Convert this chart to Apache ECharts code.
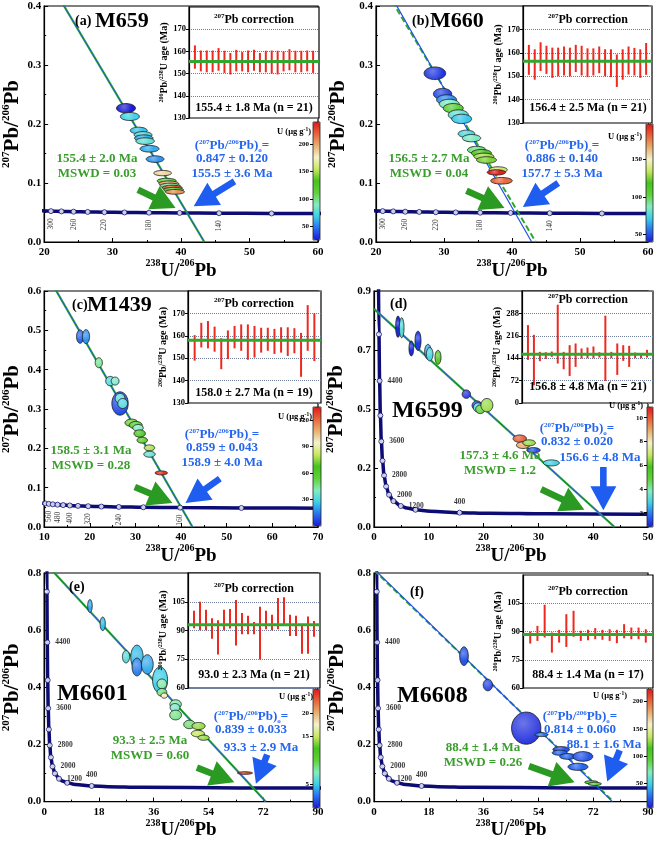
<!DOCTYPE html>
<html><head><meta charset="utf-8">
<script src="https://cdn.jsdelivr.net/npm/echarts/dist/echarts.min.js"></script>
<style>html,body{margin:0;padding:0;background:#fff}#c{width:661px;height:841px}</style>
</head><body><div id="c"></div>
<script>
// ================= DATA =================
// Concordia reference points: age (Ma), 238U/206Pb, 207Pb/206Pb
const concNarrowAge = [320,300,280,260,240,220,200,180,160,140,120,100];
const concNarrowX   = [19.65,20.99,22.53,24.30,26.36,28.80,31.73,35.32,39.79,45.55,53.22,63.97];
const concNarrowY   = [0.0528,0.0523,0.0519,0.0514,0.0510,0.0505,0.0501,0.0497,0.0493,0.0488,0.0484,0.0480];
const concNarrowMarked  = [300,280,260,240,220,200,180,160,140,120];
const concNarrowLabeled = [300,260,220,180,140];

const concMidAge = [640,600,560,520,480,440,400,360,320,280,240,200,160,120,80];
const concMidX   = [9.58,10.25,11.02,11.90,12.94,14.16,15.62,17.41,19.65,22.53,26.36,31.73,39.79,53.22,80.08];
const concMidY   = [0.0610,0.0599,0.0588,0.0577,0.0567,0.0557,0.0547,0.0537,0.0528,0.0519,0.0510,0.0501,0.0493,0.0484,0.0476];
const concMidMarked  = [600,560,520,480,440,400,360,320,280,240,200,160,120];
const concMidLabeled = [560,480,400,320,240,160];

const concWideAge = [5200,4800,4400,4000,3600,3200,2800,2400,2000,1600,1200,1000,800,600,400,300,200,100,60];
const concWideX   = [0.806,0.9045,1.0216,1.163,1.337,1.556,1.838,2.217,2.749,3.549,4.888,5.959,7.568,10.25,15.62,20.99,31.73,63.97,106.9];
const concWideY   = [0.974,0.7348,0.5572,0.4250,0.3264,0.2524,0.1968,0.1548,0.1230,0.0987,0.0801,0.0725,0.0658,0.0599,0.0547,0.0523,0.0501,0.0480,0.0472];
const concWideMarked  = [4800,4400,4000,3600,3200,2800,2400,2000,1600,1200,800,400];
const concWideLabeled = [4400,3600,2800,2000,1200,400];

// Analysis ellipses: [238U/206Pb, 207Pb/206Pb, half-width x, half-height y, U (ug/g)]
const ellA = [[31.95,0.2268,1.39,0.0079,20],[32.52,0.2127,1.39,0.0068,70],[33.81,0.189,1.24,0.0056,65],
  [34.45,0.1815,1.3,0.0056,75],[34.55,0.176,1.35,0.0056,60],[34.75,0.171,1.35,0.0056,80],
  [35.39,0.158,1.39,0.0056,60],[36.2,0.1405,1.3,0.0056,55],[37.3,0.1168,1.3,0.0045,185],
  [37.9,0.1035,1.4,0.0045,110],[38.2,0.099,1.45,0.0045,200],[38.4,0.0955,1.45,0.0042,95],
  [38.7,0.092,1.45,0.0042,220],[38.9,0.0885,1.45,0.0042,120],[39.1,0.085,1.4,0.004,205]];
const ellB = [[28.66,0.286,1.59,0.0107,45],[29.79,0.251,1.35,0.0093,48],[30.38,0.241,1.47,0.0085,60],
  [30.77,0.234,1.47,0.0079,85],[31.36,0.2268,1.47,0.0079,105],[32.1,0.2155,1.47,0.0085,80],
  [32.6,0.2087,1.47,0.0079,70],[33.3,0.1834,1.22,0.0062,75],[34.05,0.176,1.35,0.0062,85],
  [34.8,0.156,1.35,0.0062,95],[35.5,0.1506,1.47,0.0062,120],[35.86,0.145,1.47,0.0056,130],
  [36.25,0.139,1.47,0.0056,125],[37.96,0.1224,1.35,0.0051,135],[37.7,0.118,1.35,0.0045,195],
  [38.45,0.1038,1.59,0.0056,180]];
const ellC = [[17.88,0.484,0.79,0.017,12],[19.17,0.484,0.79,0.0178,18],[21.97,0.4177,0.79,0.0127,45],
  [24.48,0.371,1.0,0.0119,30],[25.55,0.371,0.86,0.0102,38],[26.63,0.314,1.79,0.0297,8],
  [26.63,0.327,1.07,0.0127,32],[27.2,0.314,1.07,0.0127,30],[29.14,0.265,1.43,0.0093,72],
  [30.07,0.259,1.43,0.0093,60],[30.57,0.2521,1.15,0.0085,40],[30.93,0.2377,1.25,0.0093,65],
  [31.5,0.2207,1.15,0.0076,70],[33.08,0.2012,1.15,0.0076,78],[33.08,0.185,1.25,0.0076,35],
  [35.66,0.1375,1.36,0.0051,130]];
const ellD = [[4.38,0.764,0.43,0.0407,1.0],[5.05,0.760,0.43,0.0382,3.2],[6.81,0.681,0.43,0.0286,1.0],
  [8.03,0.710,0.55,0.0369,1.2],[9.85,0.668,0.61,0.0286,2.5],[10.16,0.659,0.61,0.0255,3.0],
  [11.68,0.647,0.55,0.0267,6.0],[16.85,0.5066,0.76,0.016,1.0],[18.8,0.4633,0.91,0.0178,1.2],
  [18.98,0.4557,0.85,0.0178,3.0],[19.4,0.449,0.85,0.0165,5.0],[20.6,0.4646,1.09,0.0255,6.5],
  [26.6,0.337,1.22,0.014,10.0],[27.2,0.312,1.22,0.0127,9.0],[28.3,0.321,1.16,0.0115,6.5],
  [29.1,0.2928,1.22,0.0102,1.5],[32.36,0.2444,1.46,0.0115,3.0]];
const ellE = [[15.05,0.6845,0.75,0.0227,4],[19.25,0.622,0.86,0.0238,4.5],[26.9,0.507,1.18,0.0216,6],
  [30.5,0.505,2.04,0.0426,4.5],[30.5,0.471,1.61,0.0312,3],[33.9,0.48,1.94,0.034,4],
  [38.1,0.4257,2.47,0.0454,5],[38.7,0.412,1.61,0.017,8],[38.7,0.3825,1.61,0.0136,9],
  [39.46,0.371,1.08,0.0091,18],[43.2,0.3405,1.88,0.0159,8],[43.0,0.329,1.61,0.0142,7],
  [43.2,0.303,1.94,0.017,8.5],[47.74,0.27,1.88,0.0148,9],[50.75,0.2645,2.15,0.0125,14],
  [50.5,0.238,2.15,0.0114,15],[52.4,0.2236,1.88,0.0091,14],[66.0,0.1,2.47,0.0045,23]];
const ellF = [[29.56,0.509,1.42,0.0327,20],[37.4,0.408,1.53,0.0203,15],[50.0,0.257,4.82,0.0563,10],
  [55.0,0.2344,2.19,0.0068,30],[61.5,0.1825,2.74,0.0101,20],[61.0,0.171,2.46,0.009,25],
  [63.7,0.158,2.74,0.0101,25],[68.6,0.158,3.28,0.0169,20],[67.0,0.1217,3.28,0.0124,25],
  [71.4,0.0676,2.19,0.0056,100],[72.5,0.062,2.19,0.0056,90]];

// Regression lines (two end points each)
const discGreenA = [[0,0.847],[43.4,0]],  discBlueA = [[0,0.847],[43.4,0]];
const discGreenB = [[0,0.84],[43.5,0]],   discBlueB = [[0,0.865],[42.9,0]];
const discGreenC = [[0,0.855],[42.5,0]],  discBlueC = [[0,0.855],[42.5,0]];
const discGreenD = [[0,0.832],[43.9,0]],  discBlueD = [[0,0.832],[43.9,0]];
const discGreenE = [[0,0.839],[72.8,0]],  discBlueE = [[0,0.839],[72.8,0]];
const discGreenF = [[0,0.81],[78.6,0]],   discBlueF = [[0,0.814],[78.3,0]];

// Arrows: [tail x, tail y, head x, head y, kind(0 green,1 blue)]
const arrowsA = [[33.7,0.0886,39.2,0.0575,0],[47.8,0.1027,41.84,0.0604,1]];
const arrowsB = [[33.3,0.0869,38.9,0.0576,0],[46.8,0.0999,41.6,0.0592,1]];
const arrowsC = [[29.86,0.1019,38.1,0.0611,0],[48.5,0.123,40.97,0.0611,1]];
const arrowsD = [[30.5,0.1438,38.4,0.0662,0],[41.85,0.229,41.85,0.0636,1]];
const arrowsE = [[50.2,0.119,62.5,0.068,0],[73.3,0.1646,69.6,0.0624,1]];
const arrowsF = [[50.9,0.124,65.9,0.0676,0],[80.7,0.180,76.6,0.070,1]];

// 207Pb-corrected 206Pb/238U ages (Ma): lower / upper ends of error bars, weighted means
const lowA  = [152.2,151.0,150.6,150.6,151.3,150.3,149.6,151.0,151.0,150.6,151.3,150.6,150.6,150.0,149.6,151.0,151.5,150.6,150.6,151.0,150.3];
const highA = [162.7,160.4,160.4,160.4,161.5,160.3,159.3,160.7,159.7,160.4,160.7,159.3,160.3,160.4,160.3,160.0,161.0,160.3,160.3,160.4,160.3];
const lowB  = [150.6,148.5,152.2,151.0,149.3,150.0,150.3,149.9,151.8,150.3,149.6,150.3,151.3,150.0,149.6,145.4,148.5,150.7,150.3,149.3,150.6];
const highB = [163.4,161.5,164.5,163.0,162.2,162.2,162.7,162.2,163.4,163.0,161.9,161.9,162.7,161.5,161.5,159.3,161.5,162.7,162.1,161.5,164.2];
const lowC  = [148.9,154.8,154.4,152.9,145.1,149.6,154.4,153.3,149.3,150.3,152.5,153.3,151.9,152.5,151.0,152.2,141.7,153.3,148.7];
const highC = [160.3,165.8,166.6,164.1,158.9,162.4,164.4,165.1,165.1,164.4,163.6,163.6,163.1,163.8,163.8,163.4,161.3,173.7,170.0];
const lowD  = [138.6,57.0,134.3,141.8,148.3,126.8,108.5,87.0,116.1,142.9,144.0,144.0,146.1,70.9,144.0,90.3,135.4,116.1,144.0,144.0,146.1];
const highD = [250.4,219.2,164.4,163.3,165.5,316.0,164.4,185.9,191.3,175.2,178.4,181.6,163.3,280.5,164.4,191.3,185.9,183.8,162.3,160.1,170.9];
const lowE  = [91.2,90.1,90.1,85.7,77.5,90.1,91.0,82.2,88.0,88.0,88.0,74.9,90.6,90.1,90.6,92.4,87.1,87.1,77.9,77.9,86.8];
const highE = [100.3,105.0,100.8,96.4,95.4,100.8,101.2,105.9,99.1,97.7,94.5,102.4,100.3,98.2,106.9,107.3,98.2,97.7,93.3,97.3,95.0];
const lowF  = [83.6,85.0,86.8,78.8,84.1,81.8,87.2,85.0,85.4,85.9,85.6,85.0,83.8,86.4,85.9,85.9,84.1];
const highF = [90.0,93.0,104.2,89.5,90.9,99.2,101.0,90.4,90.9,91.8,90.9,91.2,90.9,93.9,92.1,92.1,91.2];
const meanAges = [155.4,156.4,158.0,156.8,93.0,88.4];

// Texts
const letters = ['(a)','(b)','(c)','(d)','(e)','(f)'];
const samples = ['M659','M660','M1439','M6599','M6601','M6608'];
const greenAges = ['155.4 ± 2.0 Ma','156.5 ± 2.7 Ma','158.5 ± 3.1 Ma','157.3 ± 4.6 Ma','93.3 ± 2.5 Ma','88.4 ± 1.4 Ma'];
const mswds = ['MSWD = 0.03','MSWD = 0.04','MSWD = 0.28','MSWD = 1.2','MSWD = 0.60','MSWD = 0.26'];
const initialRatios = ['0.847 ± 0.120','0.886 ± 0.140','0.859 ± 0.043','0.832 ± 0.020','0.839 ± 0.033','0.814 ± 0.060'];
const blueAges = ['155.5 ± 3.6 Ma','157.7 ± 5.3 Ma','158.9 ± 4.0 Ma','156.6 ± 4.8 Ma','93.3 ± 2.9 Ma','88.1 ± 1.6 Ma'];
const insetSummaries = ['155.4 ± 1.8 Ma (n = 21)','156.4 ± 2.5 Ma (n = 21)','158.0 ± 2.7 Ma (n = 19)','156.8 ± 4.8 Ma (n = 21)','93.0 ± 2.3 Ma (n = 21)','88.4 ± 1.4 Ma (n = 17)'];

// Axis ranges
const mainX = [[20,60,10],[20,60,10],[10,70,10],[0,50,10],[0,90,18],[0,90,18]];
const mainY = [[0,0.4,0.1],[0,0.4,0.1],[0,0.6,0.1],[0,0.9,0.225],[0,0.8,0.2],[0,0.8,0.2]];
const insetY = [[130,180,10],[130,180,10],[130,180,10],[0,360,72],[60,120,15],[60,120,15]];
const uRange = [[25,240],[40,197],[0,135],[0.8,10.9],[0,25],[5,223]];
const uTicks = [[50,100,150,200],[50,100,150],[30,60,90,120],[2,4,6,8,10],[5,15,20],[50,100,150,200]];

// ================= LAYOUT / STYLE =================
const FONT = 'Liberation Serif';
const GREEN = '#2f9f2f', BLUE = '#2566ef', NAVY = '#0c0c74', RED = '#ec2a20';
const CMAP = ['#1a1ad6','#2a6ff0','#3ccfe8','#86ecc0','#5fd23a','#44c41e','#c8e860','#f4f2cc','#e8b070','#e8643a','#e01818'];
const L = [
  {main:[39,6,279,236],  inset:[189,7,130,111], cb:[313,122,7,118], yGap:19, conc:'narrow',
   letter:[75,21], sample:[95,21], green:[97,173], blue:[232,146], blueAge:[232,174], it:[254,20], is:[254,108], u:[311,132]},
  {main:[376,6,272,236], inset:[523,6,129,117], cb:[646,124,7,118], yGap:25, conc:'narrow',
   letter:[412,21], sample:[430,21], green:[429,173], blue:[562,146], blueAge:[562,174], it:[588,20], is:[588,108], u:[642,137]},
  {main:[39,291,279,236], inset:[188,291,133,112], cb:[313,407,8,119], yGap:18, conc:'mid',
   letter:[72,305], sample:[87,305], green:[91,465], blue:[222,435], blueAge:[222,463], it:[254,304], is:[254,393], u:[312,417]},
  {main:[374,291,274,236], inset:[522,291,131,112], cb:[647,407,6,120], yGap:25, conc:'wide',
   letter:[390,304], sample:[392,411], green:[500,470], blue:[577,429], blueAge:[600,458], it:[588,300], is:[588,387], u:[643,406]},
  {main:[39,573,279,235], inset:[188,573,132,115], cb:[313,689,7,119], yGap:19, conc:'wide',
   letter:[69,587], sample:[57,694], green:[150,755], blue:[251,717], blueAge:[261,748], it:[254,589], is:[254,675], u:[313,697]},
  {main:[374,573,274,237], inset:[523,575,130,113], cb:[647,689,6,119], yGap:24, conc:'wide',
   letter:[410,592], sample:[397,696], green:[483,762], blue:[580,717], blueAge:[604,745], it:[588,592], is:[588,675], u:[627,696]}
];
const ells = [ellA,ellB,ellC,ellD,ellE,ellF];
const discG = [discGreenA,discGreenB,discGreenC,discGreenD,discGreenE,discGreenF];
const discB = [discBlueA,discBlueB,discBlueC,discBlueD,discBlueE,discBlueF];
const dashed = [false,true,false,false,false,true];
const arrows = [arrowsA,arrowsB,arrowsC,arrowsD,arrowsE,arrowsF];
const lows = [lowA,lowB,lowC,lowD,lowE,lowF], highs = [highA,highB,highC,highD,highE,highF];

function concSet(t){
  if (t==='narrow') return {age:concNarrowAge,x:concNarrowX,y:concNarrowY,m:concNarrowMarked,l:concNarrowLabeled};
  if (t==='mid') return {age:concMidAge,x:concMidX,y:concMidY,m:concMidMarked,l:concMidLabeled};
  return {age:concWideAge,x:concWideX,y:concWideY,m:concWideMarked,l:concWideLabeled};
}

function lighten(c, k){
  try { return echarts.color.lift(c, k); } catch(e){ return c; }
}
function ellipseRender(params, api){
  const cx=api.value(0), cy=api.value(1), rx=api.value(2), ry=api.value(3);
  const pts=[];
  for(let k=0;k<48;k++){const t=k/48*Math.PI*2; pts.push(api.coord([cx+rx*Math.cos(t), cy+ry*Math.sin(t)]));}
  const c = api.visual('color');
  return {type:'polygon', shape:{points:pts}, style:{
    fill:{type:'radial', x:0.4, y:0.35, r:0.8, colorStops:[{offset:0,color:lighten(c,0.35)},{offset:1,color:c}]},
    stroke:'#1b1b1b', lineWidth:0.8}};
}
function arrowRender(params, api){
  const a=api.coord([api.value(0),api.value(1)]), b=api.coord([api.value(2),api.value(3)]);
  const kind=api.value(4);
  const dx=b[0]-a[0], dy=b[1]-a[1], len=Math.sqrt(dx*dx+dy*dy)||1;
  const ux=dx/len, uy=dy/len, nx=-uy, ny=ux;
  const HL=24, HW=13, SW=3.3;
  const c=[b[0]-ux*HL, b[1]-uy*HL];
  const pts=[[a[0]+nx*SW,a[1]+ny*SW],[c[0]+nx*SW,c[1]+ny*SW],[c[0]+nx*HW,c[1]+ny*HW],b,
             [c[0]-nx*HW,c[1]-ny*HW],[c[0]-nx*SW,c[1]-ny*SW],[a[0]-nx*SW,a[1]-ny*SW]];
  return {type:'polygon', shape:{points:pts}, style:{fill: kind===0?'#2a9a22':'#1f5cf0'}};
}
function barRender(params, api){
  const p0=api.coord([api.value(0),api.value(1)]), p1=api.coord([api.value(0),api.value(2)]);
  return {type:'line', shape:{x1:p0[0],y1:p0[1],x2:p1[0],y2:p1[1]}, style:{stroke:RED, lineWidth:2}};
}

const grids=[], xAxes=[], yAxes=[], series=[], visualMaps=[], graphics=[];
const axLabel = {fontFamily:FONT, fontWeight:'bold', fontSize:11, color:'#000'};
const bigRich = {
  m:{fontFamily:FONT, fontWeight:'bold', fontSize:21, color:'#000', lineHeight:24},
  s:{fontFamily:FONT, fontWeight:'bold', fontSize:11, color:'#000', verticalAlign:'top', lineHeight:12}
};
const smallRich = {
  m:{fontFamily:FONT, fontWeight:'bold', fontSize:10, color:'#000', lineHeight:11},
  s:{fontFamily:FONT, fontWeight:'bold', fontSize:6, color:'#000', verticalAlign:'top', lineHeight:6}
};

for (let p=0;p<6;p++){
  const lay=L[p], gi=3*p;
  grids.push({left:lay.main[0], top:lay.main[1], width:lay.main[2], height:lay.main[3], show:true,
    borderColor:'#000', borderWidth:1.2, backgroundColor:'transparent', z:2});
  grids.push({left:lay.inset[0], top:lay.inset[1], width:lay.inset[2], height:lay.inset[3], show:true,
    borderColor:'#000', borderWidth:1.2, backgroundColor:'#fff', z:10});
  grids.push({left:lay.cb[0], top:lay.cb[1], width:lay.cb[2], height:lay.cb[3], show:true,
    borderColor:'#222', borderWidth:0.8, backgroundColor:'transparent', z:6});

  xAxes.push({gridIndex:gi, type:'value', min:mainX[p][0], max:mainX[p][1], interval:mainX[p][2],
    axisLine:{show:true,lineStyle:{color:'#000',width:1.2}}, axisTick:{inside:true,length:4,lineStyle:{color:'#000'}},
    minorTick:{show:true,splitNumber:2,length:2,lineStyle:{color:'#000'}},
    axisLabel:Object.assign({margin:5},axLabel), splitLine:{show:false},
    name:'{s|238}{m|U/}{s|206}{m|Pb}', nameLocation:'middle', nameGap:10,
    nameTextStyle:{rich:{m:Object.assign({},bigRich.m,{fontSize:19}), s:Object.assign({},bigRich.s,{fontSize:10})}}});
  yAxes.push({gridIndex:gi, type:'value', min:mainY[p][0], max:mainY[p][1], interval:mainY[p][2],
    axisLine:{show:true,lineStyle:{color:'#000',width:1.2}}, axisTick:{inside:true,length:4,lineStyle:{color:'#000'}},
    minorTick:{show:true,splitNumber:2,length:2,lineStyle:{color:'#000'}},
    axisLabel:Object.assign({margin:3, formatter:v=>v.toFixed(1)},axLabel), splitLine:{show:false},
    name:'{s|207}{m|Pb/}{s|206}{m|Pb}', nameLocation:'middle', nameGap:lay.yGap, nameRotate:90,
    nameTextStyle:{rich:bigRich}});

  const n=lows[p].length;
  xAxes.push({gridIndex:gi+1, type:'value', min:0, max:n+1, z:11,
    axisLine:{show:false}, axisTick:{show:false}, axisLabel:{show:false}, splitLine:{show:false}});
  yAxes.push({gridIndex:gi+1, type:'value', min:insetY[p][0], max:insetY[p][1], interval:insetY[p][2], z:11,
    axisLine:{show:true,lineStyle:{color:'#000',width:1.2}}, axisTick:{show:true,length:3,lineStyle:{color:'#000'}},
    axisLabel:{fontFamily:FONT,fontWeight:'bold',fontSize:8.5,color:'#000',margin:3,showMaxLabel:false},
    splitLine:{show:true,lineStyle:{type:'dotted',color:'#6f7f9c',width:1}},
    name:'{s|206}{m|Pb/}{s|238}{m|U age (Ma)}', nameLocation:'middle', nameGap:18, nameRotate:90,
    nameTextStyle:{rich:smallRich}});

  xAxes.push({gridIndex:gi+2, type:'value', min:0, max:1, show:false});
  yAxes.push({gridIndex:gi+2, type:'value', min:uRange[p][0], max:uRange[p][1], z:7,
    axisLine:{show:false}, axisTick:{show:true,length:3,inside:false,customValues:uTicks[p],lineStyle:{color:'#000'}},
    axisLabel:{fontFamily:FONT,fontWeight:'bold',fontSize:7,color:'#000',margin:4,customValues:uTicks[p]},
    splitLine:{show:false}});

  const cs=concSet(lay.conc);
  series.push({type:'line', xAxisIndex:gi, yAxisIndex:gi, data:cs.x.map((x,i)=>[x,cs.y[i]]),
    showSymbol:false, smooth:0.35, smoothMonotone:'x', clip:true, silent:true, z:2,
    lineStyle:{color:NAVY,width:3.5}});
  series.push({type:'line', xAxisIndex:gi, yAxisIndex:gi, data:discG[p], showSymbol:false, clip:true, z:3,
    lineStyle:{color:'#2ea82e', width:dashed[p]?2:2.2, type:dashed[p]?[6,3]:'solid'}});
  series.push({type:'line', xAxisIndex:gi, yAxisIndex:gi, data:discB[p], showSymbol:false, clip:true, z:3,
    lineStyle:{color:'#2050e8', width:dashed[p]?1.2:0.9}});
  const ellIdx = series.length;
  series.push({type:'custom', xAxisIndex:gi, yAxisIndex:gi, renderItem:ellipseRender, data:ells[p],
    dimensions:['x','y','rx','ry','U'], encode:{x:0,y:1}, z:4, clip:true});
  const isWide = lay.conc==='wide';
  const mk = cs.m.map(age=>{
    const i=cs.age.indexOf(age);
    const it={value:[cs.x[i],cs.y[i]]};
    if (cs.l.indexOf(age)>=0){
      if (isWide){
        it.label={show:true, formatter:String(age), position: age===400?'top':'right', distance:age===400?4:5,
          fontFamily:FONT, fontWeight:'bold', fontSize:7.5, color:'#000'};
      } else {
        it.label={show:true, formatter:String(age), position:'bottom', distance:4, rotate:90, align:'right',
          verticalAlign:'middle', fontFamily:FONT, fontSize:7.5, color:'#000'};
      }
    }
    return it;
  });
  series.push({type:'scatter', xAxisIndex:gi, yAxisIndex:gi, data:mk, symbol:'circle', symbolSize:5, z:5,
    itemStyle:{color:'#fff', borderColor:NAVY, borderWidth:1}, silent:true});
  series.push({type:'custom', xAxisIndex:gi, yAxisIndex:gi, renderItem:arrowRender, data:arrows[p],
    encode:{x:[0,2],y:[1,3]}, z:6});
  series.push({type:'custom', xAxisIndex:gi+1, yAxisIndex:gi+1, renderItem:barRender,
    data:lows[p].map((lo,i)=>[i+1,lo,highs[p][i]]), encode:{x:0,y:[1,2]}, z:12});
  series.push({type:'line', xAxisIndex:gi+1, yAxisIndex:gi+1, data:[[0,meanAges[p]],[n+1,meanAges[p]]],
    showSymbol:false, z:13, lineStyle:{color:'#2ea82e', width:3}});

  visualMaps.push({type:'continuous', seriesIndex:ellIdx, dimension:4, min:uRange[p][0], max:uRange[p][1],
    show:true, calculable:false, hoverLink:false, realtime:false, text:null, showLabel:false, padding:0,
    left:lay.cb[0], top:lay.cb[1], itemWidth:lay.cb[2], itemHeight:lay.cb[3], orient:'vertical',
    inRange:{color:CMAP}, outOfRange:{color:['#999']}, z:4});

  const T = (x,y,text,opts)=>Object.assign({type:'text', z:50, style:Object.assign({x:x,y:y,text:text,
    fontFamily:FONT, fontWeight:'bold', align:'center', verticalAlign:'middle', textAlign:'center', textVerticalAlign:'middle'},opts)});
  graphics.push(T(lay.letter[0],lay.letter[1],letters[p],{fontSize:14,fill:'#000',align:'left',textAlign:'left'}));
  graphics.push(T(lay.sample[0],lay.sample[1],samples[p],{fontSize:p>=3?24:22,fill:'#000',align:'left',textAlign:'left'}));
  graphics.push(T(lay.green[0],lay.green[1]-7,greenAges[p]+'\n'+mswds[p],{fontSize:13,fill:'#3a9e2c',lineHeight:14.5}));
  graphics.push(T(lay.blue[0],lay.blue[1],'{m|(}{s|207}{m|Pb/}{s|206}{m|Pb)}{o|o}{m|=}',{fill:BLUE, rich:{
    m:{fontFamily:FONT,fontWeight:'bold',fontSize:13,fill:BLUE,color:BLUE,lineHeight:15},
    s:{fontFamily:FONT,fontWeight:'bold',fontSize:7,fill:BLUE,color:BLUE,verticalAlign:'top',lineHeight:8},
    o:{fontFamily:FONT,fontWeight:'bold',fontSize:7,fill:BLUE,color:BLUE,verticalAlign:'bottom',lineHeight:8}}}));
  graphics.push(T(lay.blue[0],lay.blue[1]+13,initialRatios[p],{fontSize:13,fill:BLUE}));
  graphics.push(T(lay.blueAge[0],lay.blueAge[1],blueAges[p],{fontSize:13,fill:BLUE}));
  graphics.push(T(lay.it[0],lay.it[1],'{s|207}{m|Pb correction}',{fill:'#000', rich:{
    m:{fontFamily:FONT,fontWeight:'bold',fontSize:12,lineHeight:14},
    s:{fontFamily:FONT,fontWeight:'bold',fontSize:7,verticalAlign:'top',lineHeight:7}}}));
  graphics.push(T(lay.is[0],lay.is[1],insetSummaries[p],{fontSize:12,fill:'#000'}));
  graphics.push(T(lay.u[0],lay.u[1],'{m|U (μg g}{s|-1}{m|)}',{fill:'#000',align:'right',textAlign:'right', rich:{
    m:{fontFamily:FONT,fontWeight:'bold',fontSize:8.5,lineHeight:10},
    s:{fontFamily:FONT,fontWeight:'bold',fontSize:5.5,verticalAlign:'top',lineHeight:6}}}));
}

const chart = echarts.init(document.getElementById('c'), null, {renderer:'canvas', width:661, height:841});
chart.setOption({
  animation:false, backgroundColor:'#fff',
  grid:grids, xAxis:xAxes, yAxis:yAxes, series:series, visualMap:visualMaps, graphic:{elements:graphics}
});
</script></body></html>
